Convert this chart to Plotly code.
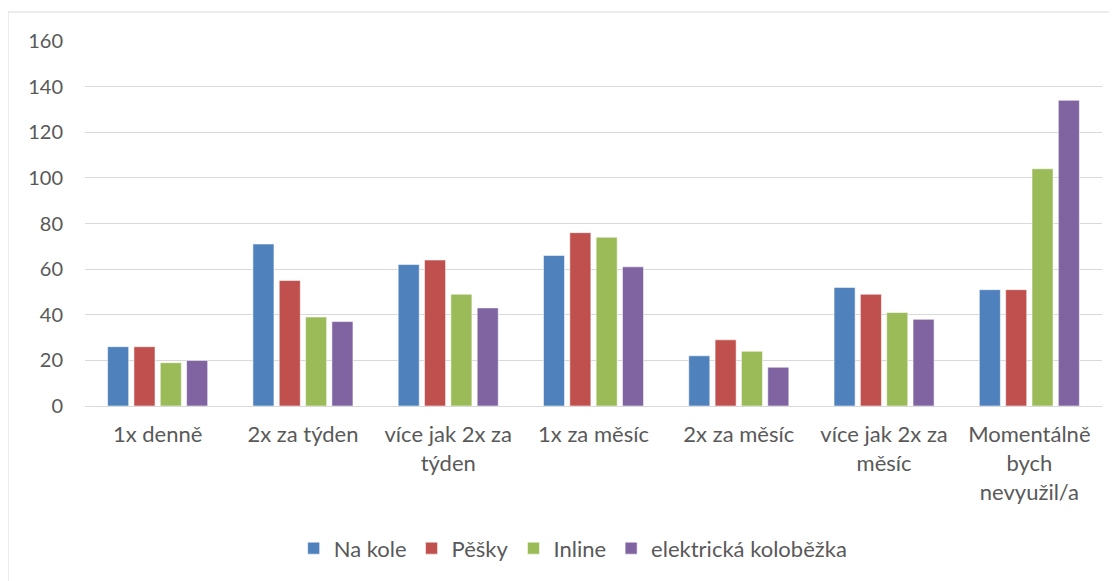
import plotly.graph_objects as go

categories = ["1x denně", "2x za týden", "více jak 2x za<br>týden", "1x za měsíc",
              "2x za měsíc", "více jak 2x za<br>měsíc", "Momentálně<br>bych<br>nevyužil/a"]
series_names = ["Na kole", "Pěšky", "Inline", "elektrická koloběžka"]
na_kole = [26, 71, 62, 66, 22, 52, 51]
pesky = [26, 55, 64, 76, 29, 49, 51]
inline = [19, 39, 49, 74, 24, 41, 104]
kolobezka = [20, 37, 43, 61, 17, 38, 134]
y_ticks = [0, 20, 40, 60, 80, 100, 120, 140, 160]

colors = ["#4F81BD", "#C0504D", "#9BBB59", "#8064A2"]
values = [na_kole, pesky, inline, kolobezka]

FONT = "Lato, Carlito, Calibri, sans-serif"
TXT = "#595959"

fig = go.Figure()
for name, vals, col in zip(series_names, values, colors):
    fig.add_trace(go.Bar(
        x=categories, y=vals, name=name,
        marker=dict(color=col, line=dict(color="rgba(255,255,255,0.55)", width=1)),
    ))

# page body has an 8px default margin; compensate so the plot sits where the reference has it
fig.update_layout(
    width=1109, height=573,
    margin=dict(l=77, r=15, t=33, b=175, autoexpand=False),
    paper_bgcolor="white", plot_bgcolor="white",
    barmode="group", bargap=0.275, bargroupgap=0.2,
    font=dict(family=FONT, size=20, color=TXT),
    showlegend=True,
    legend=dict(orientation="h", x=0.48, xanchor="center", y=-0.39, yanchor="middle",
                font=dict(family=FONT, size=22, color=TXT), itemwidth=30,
                traceorder="normal"),
    xaxis=dict(showgrid=False, showline=True, linecolor="#D9D9D9", linewidth=1,
               tickfont=dict(family=FONT, size=22, color=TXT),
               ticks="outside", ticklen=9, tickcolor="rgba(0,0,0,0)", tickangle=0),
    yaxis=dict(range=[0, 160], tickvals=y_ticks, showgrid=True, gridcolor="#D9D9D9",
               gridwidth=1, zeroline=False, showline=False,
               tickfont=dict(family=FONT, size=20, color=TXT),
               ticklabelstandoff=21),
    shapes=[dict(type="rect", xref="paper", yref="paper",
                 x0=-0.0757, x1=1.05, y0=-0.6, y1=1.0795,
                 line=dict(color="#D9D9D9", width=1), fillcolor="rgba(0,0,0,0)", layer="below")],
)

fig.write_html("out.html")
